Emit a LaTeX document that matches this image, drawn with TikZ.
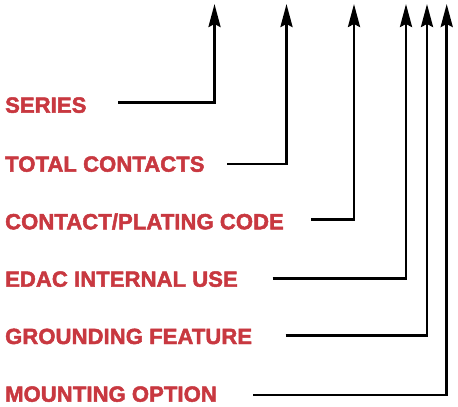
\documentclass[tikz,border=0pt]{standalone}
\usepackage{fontspec}
\setmainfont{Liberation Sans}
\newfontfamily\labelfont[FakeBold=2.2,LetterSpace=0.5]{Liberation Sans Bold}
\usetikzlibrary{arrows.meta}
\definecolor{labelred}{RGB}{200,56,64}
\tikzset{
  lbl/.style={anchor=base west, inner sep=0pt, text=labelred, font=\fontsize{22}{24}\selectfont\labelfont},
  lead/.style={line width=2.8pt, line join=miter, -{Stealth[length=23pt,width=12pt,inset=3pt]}}
}
\begin{document}
\begin{tikzpicture}[x=1pt,y=-1pt]
\useasboundingbox (0,0) rectangle (458,407);
% labels
\node[lbl] (series) at (5,112.7) {SERIES};
\node[lbl] (total) at (5,171.7) {TOTAL CONTACTS};
\node[lbl] (plating) at (5,229.3) {CONTACT/PLATING CODE};
\node[lbl] (edac) at (5,286.7) {EDAC INTERNAL USE};
\node[lbl] (ground) at (5,344) {GROUNDING FEATURE};
\node[lbl] (mount) at (5,401.7) {MOUNTING OPTION};
% line starts
\coordinate (s1) at (118,102.7);
\coordinate (s2) at (227,164);
\coordinate (s3) at (311,219.3);
\coordinate (s4) at (272.7,278.7);
\coordinate (s5) at (285.7,335.3);
\coordinate (s6) at (253,395);
% arrow tips
\coordinate (t1) at (214.5,4);
\coordinate (t2) at (286.5,4);
\coordinate (t3) at (354,4);
\coordinate (t4) at (406,4);
\coordinate (t5) at (427,4);
\coordinate (t6) at (446.7,4);
\draw[lead] (s1) -| (t1);
\draw[lead] (s2) -| (t2);
\draw[lead] (s3) -| (t3);
\draw[lead] (s4) -| (t4);
\draw[lead] (s5) -| (t5);
\draw[lead] (s6) -| (t6);
\end{tikzpicture}
\end{document}
